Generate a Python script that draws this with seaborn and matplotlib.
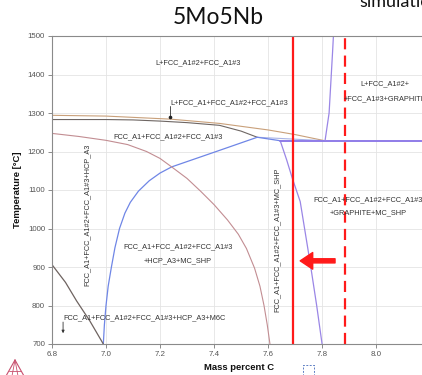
import matplotlib
matplotlib.use("Agg")
import matplotlib.pyplot as plt
import matplotlib.lines as mlines
import seaborn as sns
import pandas as pd

# ---------------- data ----------------
tan_c = [6.8, 7.0, 7.09, 7.24, 7.42, 7.6, 7.7, 7.81]
tan_t = [1294, 1292, 1289, 1284, 1273, 1256, 1244, 1228]

gray_c = [6.8, 7.0, 7.1, 7.2, 7.3, 7.42, 7.5, 7.56]
gray_t = [1283, 1283, 1282, 1279, 1275, 1268, 1253, 1237]

blue_c = [6.99, 6.994, 7.0, 7.008, 7.02, 7.033, 7.05, 7.07, 7.09, 7.12, 7.16, 7.2,
          7.243, 7.4, 7.56, 7.645]
blue_t = [700, 750, 800, 850, 900, 950, 1000, 1040, 1068, 1097, 1124, 1144,
          1160, 1198, 1237, 1228]

link_c = [7.56, 7.81]
link_t = [1237, 1228]

pink_c = [6.8, 6.9, 7.0, 7.08, 7.15, 7.2, 7.243, 7.3, 7.35, 7.4, 7.45, 7.49, 7.52,
          7.55, 7.57, 7.585, 7.597, 7.607]
pink_t = [1247, 1239, 1229, 1218, 1200, 1182, 1160, 1130, 1097, 1062, 1022, 985, 948,
          897, 850, 800, 750, 700]

blk_c = [6.8, 6.85, 6.891, 6.94, 6.99]
blk_t = [906, 860, 812, 760, 700]

purp_c = [7.645, 7.669, 7.69, 7.719, 7.756, 7.78, 7.80]
purp_t = [1228, 1178, 1130, 1070, 910, 800, 700]

horiz_c = [7.645, 8.17]
horiz_t = [1227, 1227]

liq_c = [7.811, 7.826, 7.833, 7.839, 7.842]
liq_t = [1228, 1300, 1386, 1460, 1500]

red_solid_c = 7.692
red_dash_c = 7.885
arrow_t = 916
arrow_head_c = 7.719
arrow_tail_c = 7.848

x_ticks = [6.8, 7.0, 7.2, 7.4, 7.6, 7.8, 8.0]
y_ticks = [700, 800, 900, 1000, 1100, 1200, 1300, 1400, 1500]

# ---------------- style ----------------
sns.set_style("white")
plt.rcParams["font.family"] = ["Liberation Sans", "DejaVu Sans"]

W, H = 422, 375
fig = plt.figure(figsize=(W / 100, H / 100), dpi=100)
ax = fig.add_axes([52 / W, 1 - 344 / H, (W - 52) / W, (344 - 36) / H])

ax.set_xlim(6.8, 8.17)
ax.set_ylim(700, 1500)
ax.set_xticks(x_ticks)
ax.set_yticks(y_ticks)
ax.set_xticklabels([f"{v:.1f}" for v in x_ticks])
ax.tick_params(axis="both", labelsize=5.7, colors="#777777", length=3, width=0.6,
               direction="out", pad=2, labelcolor="#555555")
ax.tick_params(axis="both", which="both", bottom=True, left=True)
ax.grid(True, color="#e4e4e4", linewidth=0.6)
ax.set_axisbelow(True)
for s in ["left", "bottom", "top"]:
    ax.spines[s].set_color("#8a8a8a")
    ax.spines[s].set_linewidth(0.8)
ax.spines["right"].set_visible(False)


def curve(cs, ts, color, lw=0.8):
    df = pd.DataFrame({"C": cs, "T": ts})
    sns.lineplot(data=df, x="C", y="T", ax=ax, color=color, linewidth=lw,
                 sort=False, estimator=None, legend=False)


curve(tan_c, tan_t, "#c9a07a")
curve(gray_c, gray_t, "#6e6663")
curve(link_c, link_t, "#a9b4e6")
curve(blue_c, blue_t, "#6f86e6", 0.9)
curve(pink_c, pink_t, "#c28d92", 0.8)
curve(blk_c, blk_t, "#6e6360", 0.9)
curve(purp_c, purp_t, "#9a86e6", 0.9)
curve(horiz_c, horiz_t, "#8f7ce8", 1.4)
curve(liq_c, liq_t, "#9a86e6", 0.9)

ax.set_xlabel("")
ax.set_ylabel("")

# red markers
ax.axvline(red_solid_c, color="#ff1a1a", linewidth=1.6)
ax.axvline(red_dash_c, color="#ff1a1a", linewidth=1.6, linestyle=(0, (5, 2.8)))
ax.annotate("", xy=(arrow_head_c, arrow_t), xytext=(arrow_tail_c, arrow_t),
            arrowprops=dict(facecolor="#ff1a1a", edgecolor="#ff1a1a", width=3,
                            headwidth=12, headlength=9, shrink=0))

# region labels
tk = dict(fontsize=5.3, color="#333333")
ax.text(7.34, 1430, "L+FCC_A1#2+FCC_A1#3", ha="center", va="center", **tk)
ax.text(7.237, 1326, "L+FCC_A1+FCC_A1#2+FCC_A1#3", ha="left", va="center", **tk)
ax.plot([7.238, 7.238], [1318, 1291], color="#333333", linewidth=0.6)
ax.plot([7.238], [1289], marker="o", markersize=1.6, color="#222222")
ax.text(7.23, 1238, "FCC_A1+FCC_A1#2+FCC_A1#3", ha="center", va="center", **tk)
ax.text(6.93, 1035, "FCC_A1+FCC_A1#2+FCC_A1#3+HCP_A3", ha="center", va="center",
        rotation=90, **tk)
ax.text(7.267, 952, "FCC_A1+FCC_A1#2+FCC_A1#3", ha="center", va="center", **tk)
ax.text(7.267, 916, "+HCP_A3+MC_SHP", ha="center", va="center", **tk)
ax.text(6.841, 768, "FCC_A1+FCC_A1#2+FCC_A1#3+HCP_A3+M6C", ha="left", va="center", **tk)
ax.annotate("", xy=(6.841, 728), xytext=(6.841, 757),
            arrowprops=dict(arrowstyle="-|>", color="#333333", lw=0.6,
                            mutation_scale=4, shrinkA=0, shrinkB=0))
ax.text(7.633, 970, "FCC_A1+FCC_A1#2+FCC_A1#3+MC_SHP", ha="center", va="center",
        rotation=90, **tk)
ax.text(8.033, 1375, "L+FCC_A1#2+", ha="center", va="center", **tk)
ax.text(8.033, 1336, "+FCC_A1#3+GRAPHITE", ha="center", va="center", **tk)
ax.text(7.97, 1074, "FCC_A1+FCC_A1#2+FCC_A1#3", ha="center", va="center", **tk)
ax.text(7.97, 1040, "+GRAPHITE+MC_SHP", ha="center", va="center", **tk)

# axis labels
fig.text(18 / W, 1 - 190 / H, "Temperature [°C]", rotation=90, ha="center",
         va="center", fontsize=6.8, fontweight="bold", color="#111111")
fig.text(239 / W, 1 - 368 / H, "Mass percent C", ha="center", va="center",
         fontsize=6.8, fontweight="bold", color="#111111")

# title and cropped caption
fig.text(218 / W, 1 - 17 / H, "5Mo5Nb", ha="center", va="center", fontsize=16.5,
         family=["Lato", "DejaVu Sans"], color="#111111")
fig.text(359 / W, 1 - 7 / H, "simulation", ha="left", va="baseline", fontsize=13,
         family=["Lato", "DejaVu Sans"], color="#111111")

# small dashed square icon
sq = plt.Rectangle((303 / W, 1 - 375 / H), 11 / W, 10 / H, transform=fig.transFigure,
                   fill=False, edgecolor="#5d7fc4", linewidth=0.7, linestyle=(0, (2, 1.5)))
fig.patches.append(sq)

# little logo triangle
def fl(p1, p2, lw=0.8):
    fig.lines.append(mlines.Line2D([p1[0] / W, p2[0] / W], [1 - p1[1] / H, 1 - p2[1] / H],
                                   transform=fig.transFigure, color="#c8506e", linewidth=lw))

fl((15, 360), (6, 376))
fl((15, 360), (24, 376))
fl((15, 360), (12, 376), 0.6)
fl((15, 360), (18, 376), 0.6)
fl((9, 371), (21, 371), 0.6)

fig.savefig("out.png", dpi=100)
